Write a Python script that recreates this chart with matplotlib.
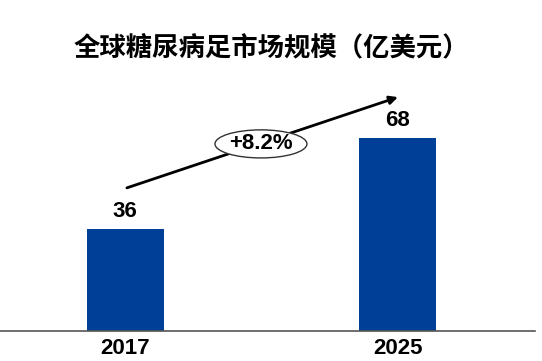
import matplotlib.pyplot as plt
from matplotlib.patches import Ellipse

years = ["2017", "2025"]
values = [36, 68]
cagr_label = "+8.2%"
title = "全球糖尿病足市场规模（亿美元）"

W, H = 542, 361
fig = plt.figure(figsize=(W / 100, H / 100), dpi=100)

# axes: bottom spine at y=331px, runs from x=0 to x=535px
ax = fig.add_axes([0, 30 / H, 535 / W, 271 / H])
x = list(range(len(years)))
ax.bar(x, values, width=0.282, color="#003F98")
ax.set_xlim(-0.458, 1.502)
ax.set_ylim(0, 95.6)

for xi, v in zip(x, values):
    ax.text(xi, v + 2.5, str(v), ha="center", va="bottom",
            fontsize=16, fontweight="bold", family="Liberation Sans")

ax.set_xticks(x)
ax.set_xticklabels(years, fontsize=16, fontweight="bold", family="Liberation Sans")
ax.tick_params(axis="x", length=0, pad=5)
ax.set_yticks([])
for s in ["top", "right", "left"]:
    ax.spines[s].set_visible(False)
ax.spines["bottom"].set_color("#555555")
ax.spines["bottom"].set_linewidth(1.2)

# growth arrow
ax.annotate("", xy=(1.0, 82.5), xytext=(0.007, 50.5),
            arrowprops=dict(arrowstyle="-|>", color="black", lw=2,
                            mutation_scale=12, shrinkA=0, shrinkB=0))
ax.add_patch(Ellipse((0.498, 66), 0.337, 9.9, facecolor="white",
                     edgecolor="#333333", lw=1, zorder=3))
ax.text(0.498, 66, cagr_label, ha="center", va="center", fontsize=16,
        fontweight="bold", family="Liberation Sans", zorder=4)

fig.text(0.5, 1 - 48 / H, title, ha="center", va="center", fontsize=19,
         fontweight="bold", family=["Noto Sans CJK SC", "DejaVu Sans"])

fig.savefig("out.png", dpi=100)
